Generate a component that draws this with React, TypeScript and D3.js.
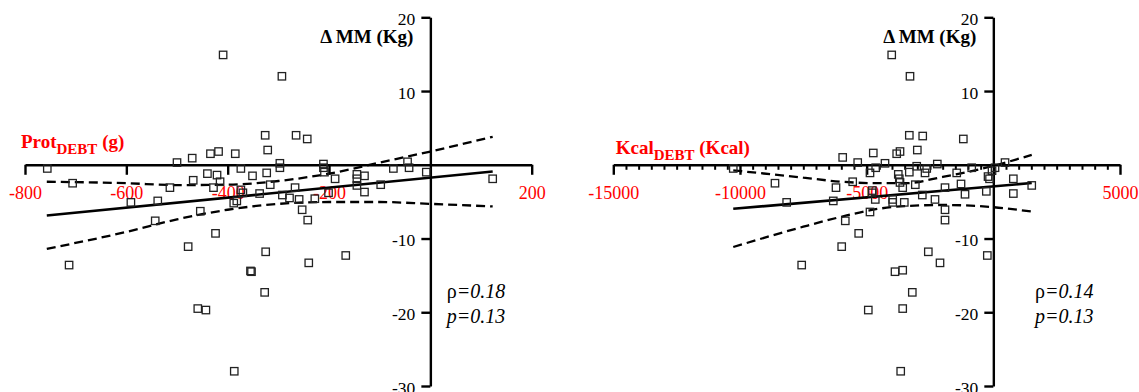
import { useRef, useEffect } from "react";
import * as d3 from "d3";

// left panel: protein debt (g) vs change in muscle mass (kg)
const protX = [-409, -293, -326, -265, -243, -321, -500, -470, -434, -418, -385, -756, -706, -514, -468, -440, -421, -415, -428, -374, -351, -323, -316, -297, -297, -211, -211, -209, -188, -145, -145, -145, -130, -130, -98, -73, -45, -42, -8, 123, -370, -337, -267, -292, -278, -259, -228, -201, -253, -242, -591, -538, -454, -543, -388, -382, -424, -478, -325, -713, -355, -353, -327, -459, -443, -387, -240, -167, -374];
const protY = [14.9, 12.0, 4.0, 4.0, 3.5, 2.0, 0.3, 0.9, 1.5, 1.8, 1.5, -0.5, -2.5, -3.1, -2.1, -1.2, -1.4, -2.3, -3.1, -0.5, -1.5, -1.1, -2.7, 0.2, -0.4, 0.1, -0.4, -1.0, -1.9, -1.3, -1.9, -2.8, -1.5, -3.7, -2.7, -0.5, 0.4, -0.4, -1.0, -1.9, -3.8, -3.9, -3.1, -4.1, -4.5, -4.7, -4.6, -3.8, -6.1, -7.5, -5.1, -4.9, -6.3, -7.6, -5.2, -4.9, -9.3, -11.1, -11.8, -13.6, -14.4, -14.5, -17.3, -19.5, -19.7, -28.0, -13.3, -12.3, -3.4];
const protFitX = [-757, 123];
const protFitY = [-6.88, -0.91];
const protBandX = [-757, -600, -500, -400, -300, -200, -100, 0, 123];
const protUpper = [-2.3, -2.5, -2.75, -2.7, -2.2, -1.2, 0.3, 1.8, 3.8];
const protLower = [-11.4, -9.1, -7.4, -6.1, -5.3, -5.05, -5.05, -5.3, -5.65];
const protTicks = [-800, -600, -400, -200, 200];

// right panel: kcal debt vs change in muscle mass
const kcalX = [-10265, -5946, -5353, -4738, -4868, -5551, -8618, -6210, -4777, -4790, -4643, -4659, -8157, -6317, -4868, -5843, -5314, -5985, -7564, -4935, -4011, -3289, -3316, -2787, -1184, -3000, -3814, -3683, -4276, -3024, -2211, -3751, -3711, -3683, -3316, -2696, -2629, -1445, -853, -209, -150, -51, 67, 462, 790, -3577, -3079, -1907, -1275, -276, 790, 1516, -1117, -3972, -3972, -3514, -2803, -2302, -1907, -1907, -2566, -2104, -237, -3881, -3577, -3198, -3577, -3656];
const kcalY = [-0.5, 1.0, 0.3, 1.6, -1.1, -2.3, -2.5, -3.1, -3.5, -3.8, -0.4, -4.7, -5.1, -4.9, -6.4, -7.6, -9.3, -11.1, -13.6, -19.7, 14.9, 12.0, 4.0, 3.9, 3.5, 2.0, 1.5, 1.8, 0.2, -0.2, 0.1, -1.3, -1.9, -2.4, -1.0, -1.1, -0.5, -1.1, -0.4, -1.6, -1.9, -0.8, -0.4, 0.3, -1.9, -3.1, -2.7, -3.1, -2.6, -3.6, -3.9, -2.8, -4.0, -4.7, -5.1, -5.1, -4.1, -4.7, -6.1, -7.5, -11.8, -13.3, -12.3, -14.5, -14.3, -17.3, -19.5, -28.0];
const kcalFitX = [-10265, 1516];
const kcalFitY = [-5.97, -2.48];
const kcalBandX = [-10265, -7500, -6000, -4500, -3500, -2000, 0, 1516];
const kcalUpper = [-0.75, -1.75, -2.3, -2.5, -2.5, -1.65, -0.15, 1.35];
const kcalLower = [-11.15, -8.4, -7.05, -5.95, -5.6, -5.45, -5.75, -6.35];
const kcalTicks = [-15000, -10000, -5000, 5000];

const yTicks = [20, 10, -10, -20, -30];

const FONT = "Liberation Serif, DejaVu Serif, Times New Roman, serif";
const RED = "#ff0000";

function drawPanel(svg: any, p: any) {
  const x = d3.scaleLinear().domain(p.xDomain).range(p.xRange);
  const y = d3.scaleLinear().domain([-30, 20]).range([386, 17.3]);
  const g = svg.append("g").style("font-family", FONT);

  // x title (red, with DEBT subscript)
  const t = g.append("text")
    .attr("x", p.titleX).attr("y", p.titleY)
    .attr("fill", RED).attr("font-weight", "bold")
    .attr("font-size", 19).style("white-space", "pre");
  t.append("tspan").text(p.titleMain);
  t.append("tspan").attr("font-size", 15).attr("dy", 6).text("DEBT");
  t.append("tspan").attr("dy", -6).text(p.titleUnit);

  // y title
  g.append("text")
    .attr("x", x(0) - 17).attr("y", 43)
    .attr("text-anchor", "end")
    .attr("font-weight", "bold").attr("font-size", 19)
    .style("white-space", "pre")
    .text("\u0394 MM (Kg)");

  // minor ticks first
  if (p.minor) {
    g.append("g")
      .attr("transform", "translate(0," + y(0) + ")")
      .call(d3.axisBottom(x).tickValues(p.minor).tickSize(5).tickSizeOuter(0).tickFormat(() => ""))
      .call((a: any) => a.select(".domain").remove())
      .call((a: any) => a.selectAll("line").attr("stroke", "#000").attr("stroke-width", 2));
  }

  const xa = g.append("g")
    .attr("transform", "translate(0," + y(0) + ")")
    .call(d3.axisBottom(x).tickValues(p.ticks).tickSize(10).tickSizeOuter(0).tickPadding(11).tickFormat((d: any) => String(d)));
  xa.attr("font-family", null);
  xa.select(".domain").attr("stroke", "#000").attr("stroke-width", 2.4);
  xa.selectAll("line").attr("stroke", "#000").attr("stroke-width", 2.4);
  xa.selectAll("text").attr("fill", RED).style("font-family", FONT).attr("font-size", 18);

  const ya = g.append("g")
    .attr("transform", "translate(" + x(0) + ",0)")
    .call(d3.axisLeft(y).tickValues(yTicks).tickSize(9).tickSizeOuter(0).tickPadding(6).tickFormat((d: any) => String(d)));
  ya.attr("font-family", null);
  ya.select(".domain").attr("stroke", "#000").attr("stroke-width", 2.4);
  ya.selectAll("line").attr("stroke", "#000").attr("stroke-width", 2.4);
  ya.selectAll("text").attr("fill", "#000").style("font-family", FONT).attr("font-size", 17.5).attr("dy", "0.4em");

  // regression and confidence band
  const line = d3.line<number>().x((d, i) => x(p.fitX[i])).y(d => y(d));
  g.append("path").attr("d", line(p.fitY)).attr("fill", "none").attr("stroke", "#000").attr("stroke-width", 2.6);

  const band = d3.line<number>().x((d, i) => x(p.bandX[i])).y(d => y(d)).curve(d3.curveMonotoneX);
  [p.upper, p.lower].forEach((b: number[]) => {
    g.append("path").attr("d", band(b)).attr("fill", "none")
      .attr("stroke", "#000").attr("stroke-width", 2.3).attr("stroke-dasharray", "9,5");
  });

  // points
  g.append("g").selectAll("rect")
    .data(p.px)
    .enter()
    .append("rect")
    .attr("x", (d: number) => x(d) - 3.7)
    .attr("y", (d: number, i: number) => y(p.py[i]) - 3.7)
    .attr("width", 7.4).attr("height", 7.4)
    .attr("fill", "none").attr("stroke", "#222").attr("stroke-width", 1.3);

  // stats
  const s = g.append("text").attr("x", p.statX).attr("y", 298).attr("font-size", 20);
  s.append("tspan").text("\u03c1");
  s.append("tspan").attr("font-style", "italic").text("=" + p.rho);
  g.append("text").attr("x", p.statX).attr("y", 323)
    .attr("font-size", 20).attr("font-style", "italic")
    .text("p=" + p.pval);
}

export default function App() {
  const root = useRef<SVGSVGElement>(null);

  useEffect(() => {
    const svg = d3.select(root.current);
    svg.selectAll("*").remove();
    drawPanel(svg, {
      xDomain: [-800, 200], xRange: [25, 531.7],
      ticks: protTicks, minor: null,
      titleX: 21, titleY: 148, titleMain: "Prot", titleUnit: " (g)",
      px: protX, py: protY, fitX: protFitX, fitY: protFitY,
      bandX: protBandX, upper: protUpper, lower: protLower,
      statX: 446.7, rho: "0.18", pval: "0.13",
    });
    drawPanel(svg, {
      xDomain: [-15000, 5000], xRange: [613.3, 1120],
      ticks: kcalTicks, minor: d3.range(-15000, 5001, 500).filter(v => v % 5000 !== 0),
      titleX: 615.7, titleY: 154, titleMain: "Kcal", titleUnit: " (Kcal)",
      px: kcalX, py: kcalY, fitX: kcalFitX, fitY: kcalFitY,
      bandX: kcalBandX, upper: kcalUpper, lower: kcalLower,
      statX: 1035, rho: "0.14", pval: "0.13",
    });
  }, []);

  return (
    <svg ref={root} width={1139} height={392}
      style={{ position: "absolute", left: 0, top: 0, background: "#fff" }} />
  );
}
